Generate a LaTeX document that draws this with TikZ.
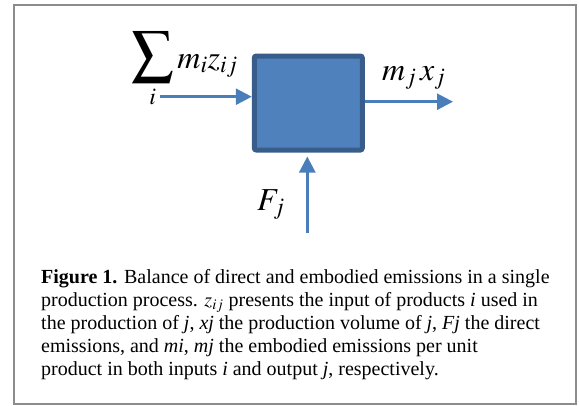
\documentclass[tikz,border=0pt]{standalone}
\usepackage{mathptmx}
\usepackage{graphicx}
\usepackage{fontspec}
\setmainfont{Liberation Serif}
\usepackage{xcolor}
\usetikzlibrary{positioning,arrows.meta,calc}
\definecolor{procfill}{HTML}{4F81BD}
\definecolor{procline}{HTML}{385D8A}
\definecolor{flowblue}{HTML}{4A7EBB}

\begin{document}
\begin{tikzpicture}[
  x=1pt, y=-1pt, >={Triangle[length=16pt,width=16pt]},
  proc/.style={draw=procline, fill=procfill, line width=5pt, rounded corners=2pt, minimum width=108pt, minimum height=94pt, inner sep=0pt},
  flow/.style={->, draw=flowblue, line width=2.6pt},
  lbl/.style={font=\fontsize{32}{33}\selectfont, inner sep=0pt, anchor=base west},
  capt/.style={font=\fontsize{20}{23}\selectfont, align=left, inner sep=0pt, anchor=base west},
  frame/.style={draw=black!45, line width=2pt},
]
\useasboundingbox (0,0) rectangle (579,405);
\draw[frame] (14,5) rectangle (576,404);
\node[proc] (proc) at (308.3,103) {};
\coordinate (src) at (160,96.7);
\coordinate (snk) at (453,101.7);
\coordinate (emi) at (307.3,233);
\draw[flow] (src) -- (src -| proc.west);
\draw[flow] (proc.east |- snk) -- (snk);
\draw[flow] (emi) -- ([yshift=-4pt]emi |- proc.south);
\node[lbl] (inlbl) at (131,68) {$\mathop{\scalebox{1.3}{$\displaystyle\sum$}}\limits_{\rule{0pt}{9pt}i} m_i z_{ij}$};
\node[lbl] (outlbl) at (382,80) {$m_j\,x_j$};
\node[lbl] (emilbl) at (257,210) {$F_j$};
\node[capt] (cap) at (41,375) {\textbf{Figure 1.} Balance of direct and embodied emissions in a single\\
  production process. $z_{ij}$ presents the input of products \textit{i} used in\\
  the production of \textit{j}, \textit{xj} the production volume of \textit{j}, \textit{Fj} the direct\\
  emissions, and \textit{mi}, \textit{mj} the embodied emissions per unit\\
  product in both inputs \textit{i} and output \textit{j}, respectively.};
\end{tikzpicture}
\end{document}
